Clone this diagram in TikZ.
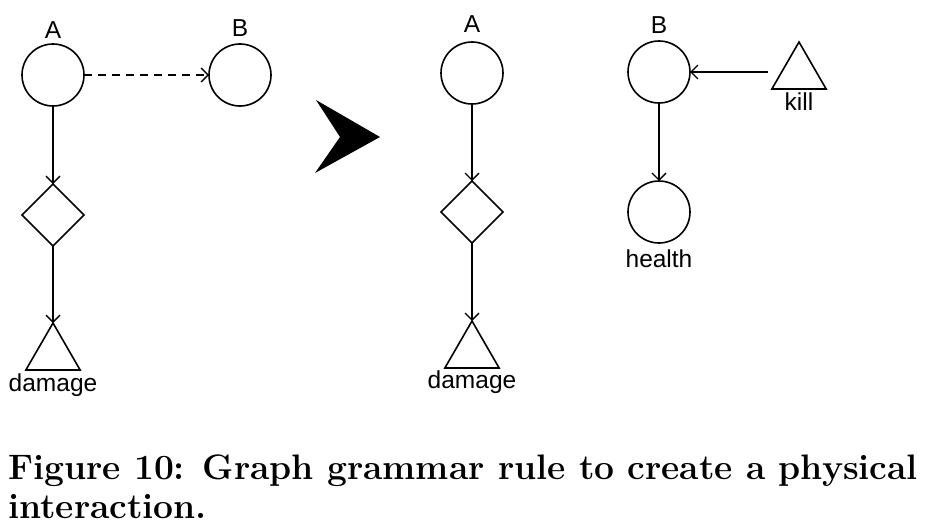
\documentclass[tikz,border=0pt]{standalone}
\usepackage{fontspec}
\setsansfont{Liberation Sans}
\usetikzlibrary{shapes.geometric,arrows.meta}
\tikzset{
  lw/.style={line width=1.6pt},
  circ/.style={circle,draw,lw,minimum size=62pt,inner sep=0pt,outer sep=0pt},
  diam/.style={diamond,draw,lw,minimum size=62pt,inner sep=0pt,outer sep=0pt},
  tri/.style={regular polygon,regular polygon sides=3,draw,lw,minimum size=62.6pt,inner sep=0pt,outer sep=0pt},
  lbl/.style={font=\sffamily\fontsize{24.5}{26}\selectfont,inner sep=0pt},
  conn/.style={lw,-{Straight Barb[length=7pt,width=14pt,line width=1.4pt]}},
  dconn/.style={conn,dash pattern=on 8pt off 6pt,line width=1.2pt},
  captext/.style={font=\bfseries\fontsize{35.4}{40}\selectfont,inner sep=0pt,anchor=base west}
}
\begin{document}
\begin{tikzpicture}[x=1pt,y=-1pt]
\useasboundingbox (0,0) rectangle (927,530);
% left graph
\node[circ] (a1) at (53,75) {};
\node[lbl] (la1) at (53,30) {A};
\node[circ] (b1) at (240,75) {};
\node[lbl] (lb1) at (240,28) {B};
\node[diam] (d1) at (53,215) {};
\node[tri] (t1) at (53,354.3) {};
\node[lbl] (lt1) at (53,385) {damage};
\draw[dconn] (a1.east) -- (b1.west);
\draw[conn] (a1.south) -- (d1.north);
\draw[conn] (d1.south) -- (t1.north);
% big arrow
\fill (316,100) -- (380,137) -- (315,173) -- (340,137) -- cycle;
% right graph
\node[circ] (a2) at (472,73) {};
\node[lbl] (la2) at (472,24) {A};
\node[diam] (d2) at (472,212) {};
\node[tri] (t2) at (472,352.3) {};
\node[lbl] (lt2) at (472,382) {damage};
\draw[conn] (a2.south) -- (d2.north);
\draw[conn] (d2.south) -- (t2.north);
\node[circ] (b2) at (659,72) {};
\node[lbl] (lb2) at (659,25) {B};
\node[circ] (h2) at (659,212) {};
\node[lbl] (lh2) at (659,259) {health};
\node[tri] (k2) at (799,73.3) {};
\node[lbl] (lk2) at (799,102) {kill};
\coordinate (ks) at (768,72);
\draw[conn] (ks) -- (b2.east);
\draw[conn] (b2.south) -- (h2.north);
% caption
\node[captext] (c1) at (8,479) {Figure 10: Graph grammar rule to create a physical};
\node[captext] (c2) at (8,518) {interaction.};
\end{tikzpicture}
\end{document}
